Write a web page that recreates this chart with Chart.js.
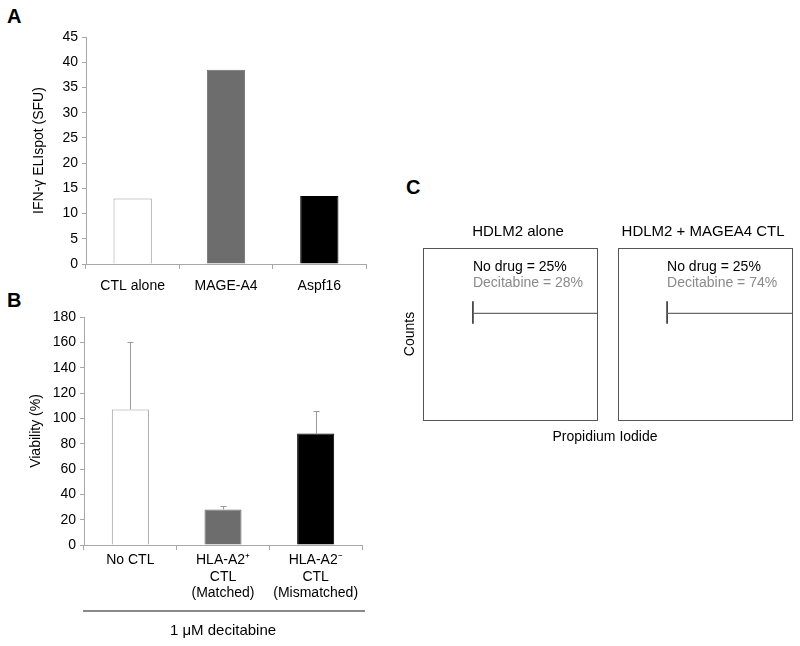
<!DOCTYPE html>
<html>
<head>
<meta charset="utf-8">
<script src="https://cdn.jsdelivr.net/npm/chart.js@4"></script>
<style>
  body { margin: 0; background: #fff; width: 800px; height: 646px; position: relative; overflow: hidden;
         font-family: "Liberation Sans", Arial, sans-serif; }
  .pos { position: absolute; }
  .letter { position: absolute; font-weight: bold; font-size: 20px; line-height: 20px; }
  .axtxt { position: absolute; font-size: 14px; line-height: 16px; white-space: nowrap; }
</style>
</head>
<body>
<div class="letter" style="left:7px;top:6px">A</div>
<div class="letter" style="left:7px;top:290px">B</div>
<div class="letter" style="left:406px;top:177px">C</div>

<div class="pos" style="left:0;top:0"><canvas id="chartA" width="400" height="300"></canvas></div>
<div class="pos" style="left:0;top:280px"><canvas id="chartB" width="400" height="366"></canvas></div>
<div class="pos" style="left:400px;top:200px"><canvas id="chartC1" width="205" height="250"></canvas></div>
<div class="pos" style="left:605px;top:200px"><canvas id="chartC2" width="195" height="250"></canvas></div>
<div class="axtxt" style="left:505px;top:428px;width:200px;text-align:center">Propidium Iodide</div>

<script>
Chart.defaults.font.family = '"Liberation Sans", Arial, sans-serif';
Chart.defaults.color = '#000';

// panel A - ELIspot
const aLabels = ['CTL alone', 'MAGE-A4', 'Aspf16'];
const aValues = [13, 38.5, 13.5];

// panel B - viability
const bLabels = [['No CTL'], ['HLA-A2\u207A', 'CTL', '(Matched)'], ['HLA-A2\u207B', 'CTL', '(Mismatched)']];
const bValues = [107, 28, 88];
const bErrors = [53, 3, 18];

// panel C - PI histograms (gate only)
const cTitles = ['HDLM2 alone', 'HDLM2 + MAGEA4 CTL'];
const cNoDrug = [25, 25];
const cDecitabine = [28, 74];
const cGateStart = [28.7, 28.2];
const cGateLevel = 62;
const cGateTick = [56, 69];

const fills = ['#ffffff', '#6d6d6d', '#000000'];
const edges = ['#9a9a9a', '#6d6d6d', '#000000'];
const axisGray = '#a8a8a8';

const errorBars = {
  id: 'errorBars',
  afterDatasetsDraw(chart) {
    const ctx = chart.ctx;
    const y = chart.scales.y;
    const meta = chart.getDatasetMeta(0);
    ctx.save();
    ctx.strokeStyle = '#9a9a9a';
    ctx.lineWidth = 1;
    meta.data.forEach((bar, i) => {
      const x = Math.round(bar.x) + 0.5;
      const top = Math.round(y.getPixelForValue(bValues[i] + bErrors[i])) + 0.5;
      ctx.beginPath();
      ctx.moveTo(x, bar.y);
      ctx.lineTo(x, top);
      ctx.moveTo(x - 3, top);
      ctx.lineTo(x + 3, top);
      ctx.stroke();
    });
    ctx.restore();
  }
};

const underline = {
  id: 'underline',
  afterDraw(chart) {
    const ctx = chart.ctx;
    const a = chart.chartArea;
    ctx.save();
    ctx.strokeStyle = '#8a8a8a';
    ctx.lineWidth = 2;
    ctx.beginPath();
    ctx.moveTo(a.left - 1, chart.height - 35);
    ctx.lineTo(a.right + 3, chart.height - 35);
    ctx.stroke();
    ctx.restore();
  }
};

function yAxis(max, step, title, width, titlePad) {
  return {
    min: 0, max: max,
    ticks: { stepSize: step, font: { size: 14 }, padding: 4, color: '#000' },
    grid: { drawOnChartArea: false, tickLength: 4, color: axisGray },
    border: { color: axisGray },
    title: { display: true, text: title, font: { size: 14 }, padding: { top: titlePad, bottom: 0 } },
    afterFit: s => { s.width = width; }
  };
}

new Chart(document.getElementById('chartA'), {
  type: 'bar',
  data: {
    labels: aLabels,
    datasets: [{ data: aValues, backgroundColor: fills, borderColor: edges, borderWidth: 1,
                 barPercentage: 0.41, categoryPercentage: 1 }]
  },
  options: {
    responsive: false,
    animation: false,
    layout: { padding: { top: 37, right: 34, left: 0, bottom: 0 } },
    plugins: { legend: { display: false }, tooltip: { enabled: false } },
    scales: {
      x: {
        grid: { drawOnChartArea: false, tickLength: 5, color: axisGray },
        border: { color: axisGray },
        ticks: { font: { size: 14 }, padding: 9, color: '#000' },
        afterFit: s => { s.height = 36; }
      },
      y: yAxis(45, 5, 'IFN-\u03B3 ELIspot (SFU)', 86, 31)
    }
  }
});

new Chart(document.getElementById('chartB'), {
  type: 'bar',
  data: {
    labels: bLabels,
    datasets: [{ data: bValues, backgroundColor: fills, borderColor: edges, borderWidth: 1,
                 barPercentage: 0.4, categoryPercentage: 1 }]
  },
  options: {
    responsive: false,
    animation: false,
    layout: { padding: { top: 37, right: 38, left: 0, bottom: 0 } },
    plugins: { legend: { display: false }, tooltip: { enabled: false } },
    scales: {
      x: {
        grid: { drawOnChartArea: false, tickLength: 5, color: axisGray },
        border: { color: axisGray },
        ticks: { font: { size: 14, lineHeight: 1.18 }, padding: 2, color: '#000' },
        title: { display: true, text: '1 \u03BCM decitabine', font: { size: 15 }, padding: { top: 0, bottom: 6 } },
        afterFit: s => { s.height = 101; }
      },
      y: yAxis(180, 20, 'Viability (%)', 84, 28)
    }
  },
  plugins: [errorBars, underline]
});

const boxAndText = {
  id: 'boxAndText',
  afterDraw(chart) {
    const i = chart.options.panelIndex;
    const { ctx, chartArea: a, scales: { x, y } } = chart;
    ctx.save();
    ctx.strokeStyle = '#555';
    ctx.lineWidth = 1;
    ctx.strokeRect(Math.round(a.left) + 0.5, Math.round(a.top) + 0.5,
                   Math.round(a.right - a.left), Math.round(a.bottom - a.top));
    ctx.textBaseline = 'middle';
    ctx.font = '15px "Liberation Sans", Arial, sans-serif';
    ctx.fillStyle = '#000';
    ctx.textAlign = 'center';
    ctx.fillText(cTitles[i], x.getPixelForValue(chart.options.titleAt), y.getPixelForValue(109.3));
    ctx.textAlign = 'left';
    ctx.font = '14px "Liberation Sans", Arial, sans-serif';
    ctx.fillText('No drug = ' + cNoDrug[i] + '%', x.getPixelForValue(cGateStart[i]), y.getPixelForValue(89));
    ctx.fillStyle = '#8a8a8a';
    ctx.fillText('Decitabine = ' + cDecitabine[i] + '%', x.getPixelForValue(cGateStart[i]), y.getPixelForValue(79.7));
    ctx.restore();
  }
};

function histPanel(id, i, padLeft, yWidth, titleAt) {
  new Chart(document.getElementById(id), {
    type: 'scatter',
    data: {
      datasets: [
        { data: [{ x: cGateStart[i], y: cGateLevel }, { x: 100, y: cGateLevel }],
          showLine: true, borderColor: '#6a6a6a', borderWidth: 1.3, pointRadius: 0 },
        { data: [{ x: cGateStart[i], y: cGateTick[0] }, { x: cGateStart[i], y: cGateTick[1] }],
          showLine: true, borderColor: '#000', borderWidth: 1.3, pointRadius: 0 }
      ]
    },
    options: {
      responsive: false,
      animation: false,
      panelIndex: i,
      titleAt: titleAt,
      layout: { padding: { top: 48, right: 8, left: padLeft, bottom: 30 } },
      plugins: { legend: { display: false }, tooltip: { enabled: false } },
      scales: {
        x: { type: 'linear', min: 0, max: 100, display: false },
        y: {
          min: 0, max: 100,
          display: i === 0,
          ticks: { display: false },
          grid: { display: false },
          border: { display: false },
          title: { display: true, text: 'Counts', font: { size: 14 }, padding: { top: 2, bottom: 0 } },
          afterFit: s => { s.width = yWidth; }
        }
      }
    },
    plugins: [boxAndText]
  });
}

histPanel('chartC1', 0, 0, 23, 54.6);
histPanel('chartC2', 1, 13, 0, 48.9);
</script>
</body>
</html>
